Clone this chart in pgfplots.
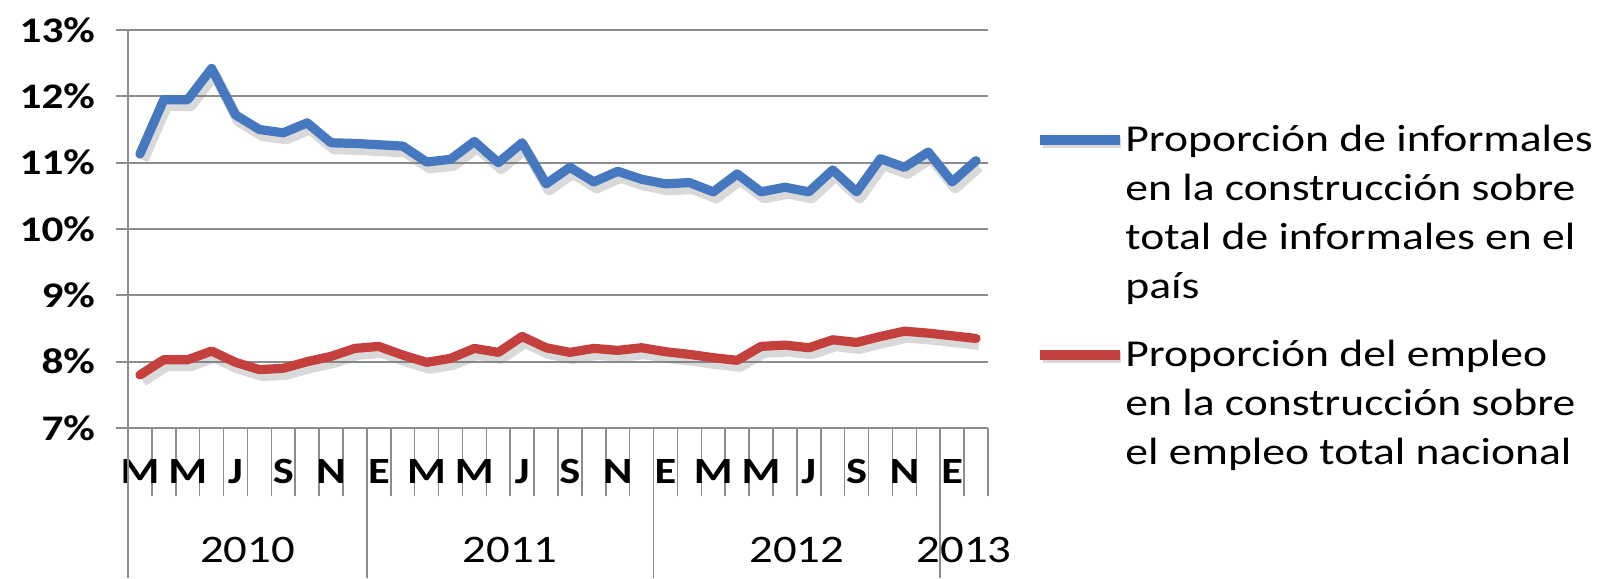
\documentclass[border=0pt]{standalone}
\usepackage{fontspec}
\setmainfont{Carlito}[FakeStretch=1.2]
\usepackage{pgfplots}
\usepackage{pgfplotstable}
\pgfplotsset{compat=1.18}
\definecolor{xblue}{RGB}{70,120,192}
\definecolor{xred}{RGB}{196,64,60}
\definecolor{gridgray}{RGB}{140,140,140}
\definecolor{shadowgray}{RGB}{120,120,120}

\pgfplotstableread{
x blue red
0.5 11.13 7.80
1.5 11.95 8.03
2.5 11.95 8.03
3.5 12.42 8.16
4.5 11.72 7.99
5.5 11.50 7.88
6.5 11.45 7.90
7.5 11.60 8.00
8.5 11.30 8.08
9.5 11.29 8.20
10.5 11.27 8.23
11.5 11.25 8.10
12.5 11.01 7.99
13.5 11.05 8.05
14.5 11.32 8.20
15.5 11.00 8.14
16.5 11.30 8.38
17.5 10.68 8.21
18.5 10.93 8.14
19.5 10.71 8.20
20.5 10.87 8.17
21.5 10.75 8.21
22.5 10.68 8.15
23.5 10.70 8.11
24.5 10.56 8.06
25.5 10.83 8.02
26.5 10.56 8.23
27.5 10.63 8.25
28.5 10.56 8.21
29.5 10.89 8.33
30.5 10.56 8.29
31.5 11.06 8.38
32.5 10.93 8.46
33.5 11.16 8.43
34.5 10.71 8.39
35.5 11.03 8.35
}\datatable

\begin{document}
\begin{tikzpicture}
\useasboundingbox (0bp,0bp) rectangle (803bp,289.5bp);
\begin{axis}[
  at={(64bp,75.5bp)}, anchor=south west,
  width=430bp, height=199bp, scale only axis,
  xmin=0, xmax=36, ymin=7, ymax=13,
  clip=false,
  axis lines*=left,
  axis line style={gridgray, line width=1bp},
  ytick={7,8,...,13},
  yticklabel={\pgfmathprintnumber{\tick}\%},
  /pgf/number format/assume math mode=true,
  ymajorgrids,
  major grid style={gridgray, line width=1bp},
  tick align=outside,
  major tick length=6bp,
  minor tick length=34bp,
  ytick style={gridgray, line width=1bp},
  xtick={0.5,2.5,...,34.5},
  xticklabels={M,M,J,S,N,E,M,M,J,S,N,E,M,M,J,S,N,E},
  major x tick style={draw=none},
  minor xtick={0,1,...,36},
  minor x tick style={gridgray, line width=0.75bp},
  yticklabel style={font=\fontsize{18bp}{20bp}\selectfont\bfseries, text=black, xshift=-7bp},
  xticklabel style={font=\fontsize{18.5bp}{20bp}\selectfont\bfseries, text=black, yshift=-6bp},
]
\addplot[shadowgray, opacity=0.28, line width=5.5bp, line join=round, xshift=1.5bp, yshift=-3bp] table[x=x,y=blue]{\datatable};
\addplot[shadowgray, opacity=0.28, line width=5.5bp, line join=round, xshift=1.5bp, yshift=-3bp] table[x=x,y=red]{\datatable};
\addplot[xblue, line width=4.6bp, line join=round, line cap=round] table[x=x,y=blue]{\datatable};
\addplot[xred, line width=4.6bp, line join=round, line cap=round] table[x=x,y=red]{\datatable};
\pgfplotsinvokeforeach{0,10,22,34}{
  \draw[gridgray, line width=0.75bp] (axis cs:#1,7) -- ++(0bp,-75bp);
}
\node[font=\fontsize{19.5bp}{21bp}\selectfont, yshift=-61bp] at (axis cs:5,7) {2010};
\node[font=\fontsize{19.5bp}{21bp}\selectfont, yshift=-61bp] at (axis cs:16,7) {2011};
\node[font=\fontsize{19.5bp}{21bp}\selectfont, yshift=-61bp] at (axis cs:28,7) {2012};
\node[font=\fontsize{19.5bp}{21bp}\selectfont, yshift=-61bp] at (axis cs:35,7) {2013};
\end{axis}
% legend
\draw[shadowgray, opacity=0.28, line width=5.5bp] (521.5bp,218bp) -- (560.5bp,218bp);
\draw[xblue, line width=4.6bp] (520bp,219.5bp) -- (560bp,219.5bp);
\draw[shadowgray, opacity=0.28, line width=5.5bp] (521.5bp,110.5bp) -- (560.5bp,110.5bp);
\draw[xred, line width=4.6bp] (520bp,112bp) -- (560bp,112bp);
\begin{scope}[every node/.style={anchor=base west, inner sep=0pt, font=\fontsize{19bp}{24bp}\selectfont}]
\node at (562.5bp,213.5bp) {Proporción de informales};
\node at (562.5bp,189bp) {en la construcción sobre};
\node at (562.5bp,164.5bp) {total de informales en el};
\node at (562.5bp,140bp) {país};
\node at (562.5bp,106bp) {Proporción del empleo};
\node at (562.5bp,81.5bp) {en la construcción sobre};
\node at (562.5bp,57bp) {el empleo total nacional};
\end{scope}
\end{tikzpicture}
\end{document}
